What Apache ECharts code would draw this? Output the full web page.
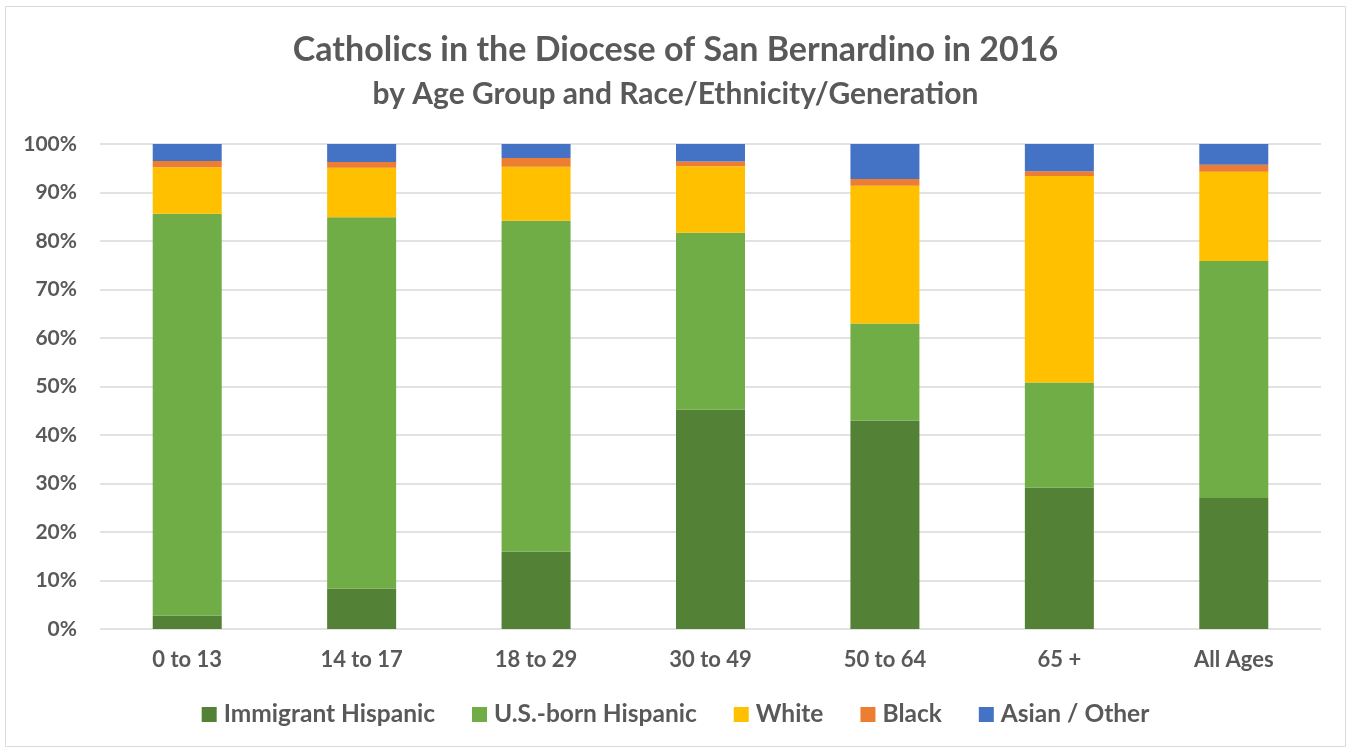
<!DOCTYPE html>
<html>
<head>
<meta charset="utf-8">
<script src="https://cdn.jsdelivr.net/npm/echarts@6/dist/echarts.min.js"></script>
<style>html,body{margin:0;padding:0;background:#fff;}#c{width:1351px;height:751px;}</style>
</head>
<body>
<div id="c"></div>
<script>
const categories = ['0 to 13', '14 to 17', '18 to 29', '30 to 49', '50 to 64', '65 +', 'All Ages'];
const immigrantHispanic = [2.8, 8.3, 16.0, 45.2, 43.0, 29.1, 27.0];
const usBornHispanic = [82.8, 76.6, 68.2, 36.5, 20.0, 21.7, 48.9];
const white = [9.6, 10.2, 11.1, 13.7, 28.4, 42.6, 18.4];
const black = [1.3, 1.2, 1.8, 1.0, 1.4, 1.0, 1.4];
const asianOther = [3.5, 3.7, 2.9, 3.6, 7.2, 5.6, 4.3];
const yTicks = [0, 10, 20, 30, 40, 50, 60, 70, 80, 90, 100];

const FONT = 'Lato';
const TXT = '#595959';
const chart = echarts.init(document.getElementById('c'));
function s(name, data, color) {
  return { name, type: 'bar', stack: 'all', data, barWidth: 69,
    itemStyle: { color }, emphasis: { disabled: true } };
}
chart.setOption({
  animation: false,
  textStyle: { fontFamily: FONT },
  title: [
    { text: 'Catholics in the Diocese of San Bernardino in 2016', left: 'center', top: 28,
      textStyle: { fontFamily: FONT, fontSize: 34, fontWeight: 'bold', color: TXT } },
    { text: 'by Age Group and Race/Ethnicity/Generation', left: 'center', top: 74,
      textStyle: { fontFamily: FONT, fontSize: 30, fontWeight: 'bold', color: TXT } }
  ],
  graphic: [{ type: 'rect', shape: { x: 5.5, y: 6.5, width: 1340, height: 740 },
    style: { fill: 'none', stroke: '#d9d9d9', lineWidth: 1 }, silent: true, z: -1 }],
  grid: { left: 100, right: 30, top: 144, bottom: 122, containLabel: false },
  legend: {
    bottom: 19, left: 'center', itemWidth: 15, itemHeight: 15, itemGap: 37,
    icon: 'rect',
    textStyle: { fontFamily: FONT, fontSize: 24.5, fontWeight: 'bold', color: TXT, padding: [0, 0, 0, 2] },
    data: ['Immigrant Hispanic', 'U.S.-born Hispanic', 'White', 'Black', 'Asian / Other']
  },
  xAxis: {
    type: 'category', data: categories,
    axisLine: { show: false }, axisTick: { show: false },
    axisLabel: { fontFamily: FONT, fontSize: 22, fontWeight: 'bold', color: TXT, margin: 20 }
  },
  yAxis: {
    type: 'value', min: 0, max: 100, interval: 10,
    axisLine: { show: false }, axisTick: { show: false },
    splitLine: { lineStyle: { color: '#d9d9d9', width: 1.5 } },
    axisLabel: { fontFamily: FONT, fontSize: 21, fontWeight: 'bold', color: TXT, margin: 23,
      formatter: v => yTicks.includes(v) ? v + '%' : '' }
  },
  series: [
    s('Immigrant Hispanic', immigrantHispanic, '#538135'),
    s('U.S.-born Hispanic', usBornHispanic, '#70ad47'),
    s('White', white, '#ffc000'),
    s('Black', black, '#ed7d31'),
    s('Asian / Other', asianOther, '#4472c4')
  ]
});
</script>
</body>
</html>
